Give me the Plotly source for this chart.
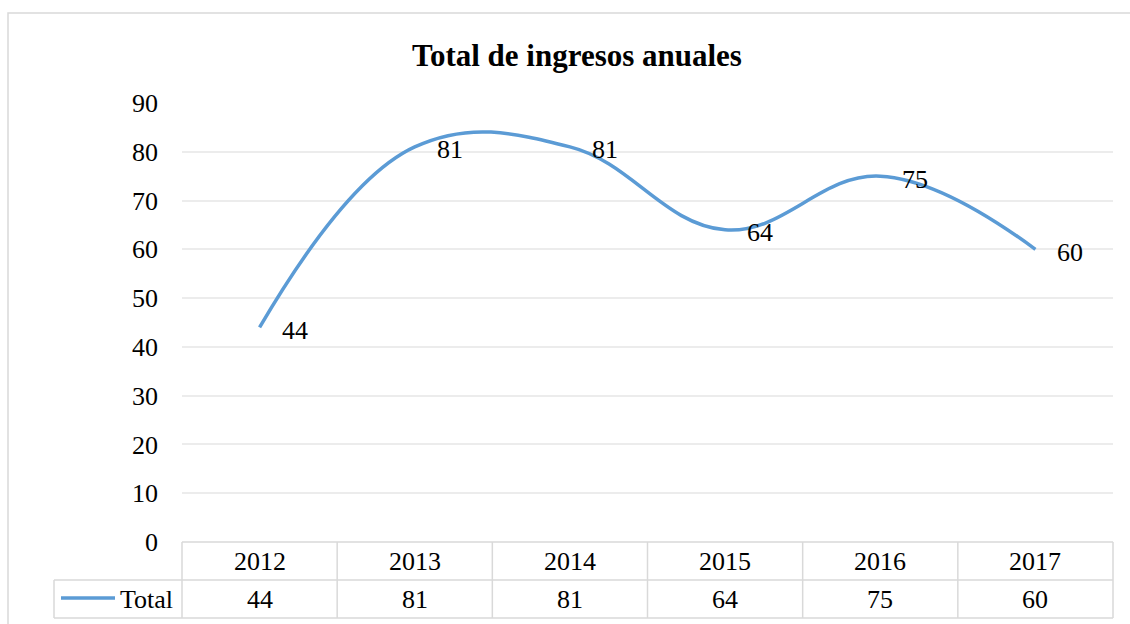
import plotly.graph_objects as go

# Chart data
years = ["2012", "2013", "2014", "2015", "2016", "2017"]
totals = [44, 81, 81, 64, 75, 60]
y_ticks = [0, 10, 20, 30, 40, 50, 60, 70, 80, 90]
series_name = "Total"
title_text = "Total de ingresos anuales"

W, H = 1130, 624
PL, PR, PT, PB = 182, 1113, 103, 542  # plot area in pixels

FONT = "Liberation Serif"
FS = 26
LINE_COLOR = "#5b9bd5"
GRID = "#ececec"
BORDER = "#d9d9d9"


def px_x(x):
    return (x - PL) / (PR - PL)


def px_y(y):
    return (PB - y) / (PB - PT)


xs = list(range(len(years)))

fig = go.Figure()
fig.add_trace(go.Scatter(
    x=xs, y=totals, mode="lines",
    line=dict(color=LINE_COLOR, width=3.5, shape="spline", smoothing=1.15),
    showlegend=False, hoverinfo="skip",
))

annotations = []
# value labels to the right of each point
for x, v in zip(xs, totals):
    annotations.append(dict(
        x=x, y=v, xref="x", yref="y", text=str(v), showarrow=False,
        xanchor="left", yanchor="middle", xshift=20, yshift=-3,
        font=dict(family=FONT, size=FS, color="#000"),
    ))

shapes = []
# outer chart frame
shapes.append(dict(type="rect", xref="paper", yref="paper",
                   x0=px_x(8), x1=px_x(1140), y0=px_y(13), y1=px_y(640),
                   line=dict(color=BORDER, width=1.5), fillcolor="rgba(0,0,0,0)", layer="below"))

# data table grid
row1_top, row_mid, row_bot = 542, 580, 618
col_w = (PR - PL) / len(years)
legend_left = 54
tbl = dict(color=BORDER, width=1.5)
shapes.append(dict(type="line", xref="paper", yref="paper", x0=px_x(PL), x1=px_x(PR),
                   y0=px_y(row1_top), y1=px_y(row1_top), line=tbl))
shapes.append(dict(type="line", xref="paper", yref="paper", x0=px_x(legend_left), x1=px_x(PR),
                   y0=px_y(row_mid), y1=px_y(row_mid), line=tbl))
shapes.append(dict(type="line", xref="paper", yref="paper", x0=px_x(legend_left), x1=px_x(PR),
                   y0=px_y(row_bot), y1=px_y(row_bot), line=tbl))
shapes.append(dict(type="line", xref="paper", yref="paper", x0=px_x(legend_left), x1=px_x(legend_left),
                   y0=px_y(row_mid), y1=px_y(row_bot), line=tbl))
for i in range(len(years) + 1):
    cx = PL + i * col_w
    shapes.append(dict(type="line", xref="paper", yref="paper", x0=px_x(cx), x1=px_x(cx),
                       y0=px_y(row1_top), y1=px_y(row_bot), line=tbl))

# legend key line in table
shapes.append(dict(type="line", xref="paper", yref="paper", x0=px_x(61), x1=px_x(115),
                   y0=px_y(598), y1=px_y(598), line=dict(color=LINE_COLOR, width=3.5)))

for i, (yr, v) in enumerate(zip(years, totals)):
    cx = PL + (i + 0.5) * col_w
    annotations.append(dict(x=px_x(cx), y=px_y(561), xref="paper", yref="paper", text=yr,
                            showarrow=False, xanchor="center", yanchor="middle",
                            font=dict(family=FONT, size=FS, color="#000")))
    annotations.append(dict(x=px_x(cx), y=px_y(599), xref="paper", yref="paper", text=str(v),
                            showarrow=False, xanchor="center", yanchor="middle",
                            font=dict(family=FONT, size=FS, color="#000")))
annotations.append(dict(x=px_x(175), y=px_y(599), xref="paper", yref="paper", text=series_name,
                        showarrow=False, xanchor="right", yanchor="middle",
                        font=dict(family=FONT, size=FS, color="#000")))

fig.update_layout(
    width=W, height=H,
    margin=dict(l=PL, r=W - PR, t=PT, b=H - PB),
    paper_bgcolor="white", plot_bgcolor="white",
    title=dict(text="<b>" + title_text + "</b>", x=577 / W,
               xanchor="center", y=1 - 55 / H, yanchor="middle",
               font=dict(family=FONT, size=31, color="#000")),
    xaxis=dict(range=[-0.5, len(years) - 0.5], showticklabels=False, showgrid=False,
               zeroline=False, showline=False, ticks=""),
    yaxis=dict(range=[0, 90], tickvals=y_ticks, showgrid=True, gridcolor=GRID, gridwidth=1.5,
               zeroline=False, showline=False, ticks="", ticklabelstandoff=23,
               tickfont=dict(family=FONT, size=FS, color="#000")),
    shapes=shapes, annotations=annotations,
)

fig.write_html("out.html")
